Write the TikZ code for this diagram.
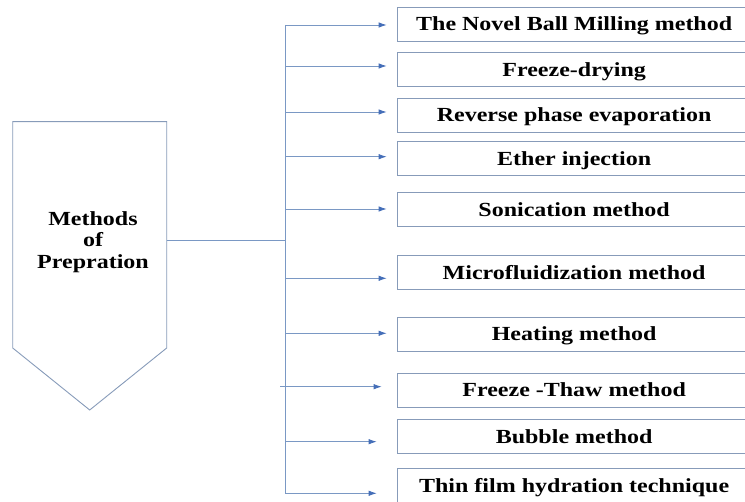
\documentclass[tikz,border=0pt]{standalone}
\usepackage{fontspec}
\setmainfont{Liberation Serif}[FakeStretch=1.2]
\usetikzlibrary{arrows.meta, positioning}
\definecolor{linkblue}{RGB}{122,152,196}
\definecolor{tipblue}{RGB}{68,110,184}
\definecolor{framegrey}{RGB}{135,155,185}

\begin{document}
\begin{tikzpicture}[x=1pt, y=-1pt,
    method/.style={rectangle, draw=framegrey, line width=0.9pt, anchor=north west,
      minimum width=354pt, minimum height=34pt, inner sep=0pt,
      text height=13.5pt, text depth=0pt,
      font=\bfseries\fontsize{20}{21.5}\selectfont},
    title/.style={align=center, font=\bfseries\fontsize{20}{21.5}\selectfont},
    link/.style={draw=linkblue, line width=0.9pt},
    feed/.style={link, -{Latex[length=8pt, width=5.5pt, color=tipblue]}}]
  \useasboundingbox (0,0) rectangle (745,502);
  \clip (0,0) rectangle (745,502);
  % the pointing block on the left
  \draw[framegrey, line width=0.9pt] (12.7,121.7) -- (166.7,121.7) -- (166.7,348)
    -- (89.7,410) -- (12.7,348) -- cycle;
  \node[title] (prep) at (93,242) {Methods\\of\\Prepration};
  \coordinate (prep-e) at (166.7,240.7);
  % the methods
  \node[method] (m1) at (396.7,6.7) {The Novel Ball Milling method};
  \node[method] (m2) at (396.7,52.3) {Freeze-drying};
  \node[method] (m3) at (396.7,97.7) {Reverse phase evaporation};
  \node[method] (m4) at (396.7,141) {Ether injection};
  \node[method] (m5) at (396.7,192.3) {Sonication method};
  \node[method] (m6) at (396.7,255) {Microfluidization method};
  \node[method] (m7) at (396.7,316.7) {Heating method};
  \node[method] (m8) at (396.7,372.7) {Freeze -Thaw method};
  \node[method] (m9) at (396.7,419.3) {Bubble method};
  \node[method, minimum height=38pt] (m10) at (396.7,468.3) {\raisebox{2pt}{Thin film hydration technique}};
  % arrow ends
  \coordinate (t1) at (386.7,25);
  \coordinate (t2) at (386.7,66);
  \coordinate (t3) at (386.7,112);
  \coordinate (t4) at (386.7,156.7);
  \coordinate (t5) at (386.7,209);
  \coordinate (t6) at (386.7,278.3);
  \coordinate (t7) at (386.7,333.3);
  \coordinate (t8) at (381.7,386.7);
  \coordinate (t9) at (376.7,441.7);
  \coordinate (t10) at (376.7,493.3);
  \coordinate (bus) at (285,25);
  % bus
  \draw[link] (prep-e) -- (prep-e -| bus);
  \draw[link] (bus) -- (t10 -| bus);
  \draw[feed] (bus) -- (t1);
  \draw[feed] (t2 -| bus) -- (t2);
  \draw[feed] (t3 -| bus) -- (t3);
  \draw[feed] (t4 -| bus) -- (t4);
  \draw[feed] (t5 -| bus) -- (t5);
  \draw[feed] (t6 -| bus) -- (t6);
  \draw[feed] (t7 -| bus) -- (t7);
  \draw[feed] ([xshift=-5pt]t8 -| bus) -- (t8);
  \draw[feed] (t9 -| bus) -- (t9);
  \draw[feed] (t10 -| bus) -- (t10);
\end{tikzpicture}
\end{document}
